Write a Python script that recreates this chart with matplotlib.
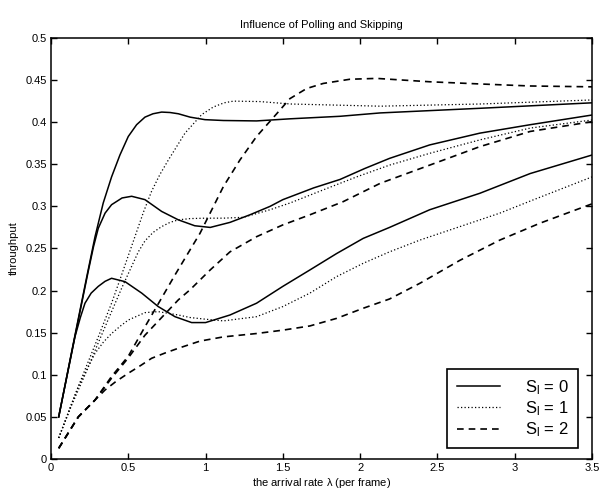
import matplotlib
matplotlib.use("Agg")
import matplotlib.pyplot as plt

plt.rcParams['font.family'] = ['Liberation Sans', 'DejaVu Sans']
plt.rcParams['mathtext.fontset'] = 'custom'
plt.rcParams['mathtext.rm'] = 'Liberation Sans'
plt.rcParams['mathtext.it'] = 'Liberation Sans'

# Values: arrival rate (per frame) vs throughput.
# S_l = 0 (solid), three curves
s0_top_x = [0.05, 0.14, 0.23, 0.285, 0.338, 0.392, 0.446, 0.50, 0.554, 0.608, 0.66,
            0.716, 0.77, 0.824, 0.90, 0.996, 1.115, 1.33, 1.546, 1.87, 2.13, 2.775, 3.5]
s0_top_y = [0.05, 0.133, 0.215, 0.264, 0.304, 0.335, 0.361, 0.383, 0.397, 0.406, 0.410,
            0.412, 0.4115, 0.410, 0.406, 0.403, 0.402, 0.4015, 0.404, 0.407, 0.411, 0.4165, 0.423]

s0_mid_x = [0.05, 0.14, 0.24, 0.275, 0.306, 0.35, 0.392, 0.46, 0.522, 0.608, 0.716, 0.824, 0.93,
            1.03, 1.158, 1.287, 1.417, 1.5, 1.7, 1.87, 2.03, 2.19, 2.45, 2.775, 3.1, 3.5]
s0_mid_y = [0.05, 0.132, 0.222, 0.252, 0.274, 0.292, 0.302, 0.310, 0.312, 0.308, 0.294, 0.284, 0.277,
            0.275, 0.281, 0.290, 0.300, 0.308, 0.322, 0.332, 0.345, 0.357, 0.373, 0.387, 0.397, 0.4085]

s0_low_x = [0.05, 0.155, 0.19, 0.22, 0.26, 0.306, 0.35, 0.392, 0.479, 0.587, 0.694, 0.802, 0.91, 1.0,
            1.158, 1.33, 1.5, 1.675, 1.848, 2.02, 2.19, 2.45, 2.775, 3.1, 3.5]
s0_low_y = [0.05, 0.145, 0.168, 0.185, 0.197, 0.205, 0.211, 0.2146, 0.2106, 0.197, 0.181, 0.169, 0.162, 0.162,
            0.171, 0.185, 0.205, 0.2245, 0.244, 0.262, 0.275, 0.296, 0.3156, 0.339, 0.361]

# S_l = 1 (dotted)
s1_top_x = [0.05, 0.134, 0.22, 0.306, 0.392, 0.45, 0.543, 0.60, 0.651, 0.705, 0.759, 0.867, 0.975,
            1.05, 1.12, 1.18, 1.35, 1.55, 2.13, 2.775, 3.5]
s1_top_y = [0.025, 0.066, 0.106, 0.145, 0.185, 0.215, 0.264, 0.294, 0.318, 0.338, 0.355, 0.387, 0.409,
            0.418, 0.423, 0.425, 0.4245, 0.4216, 0.419, 0.4216, 0.4264]

s1_mid_x = [0.05, 0.134, 0.22, 0.306, 0.392, 0.46, 0.52, 0.565, 0.608, 0.66, 0.716, 0.77, 0.824, 0.90, 1.0,
            1.115, 1.244, 1.417, 1.546, 1.76, 1.977, 2.19, 2.45, 2.775, 3.1, 3.5]
s1_mid_y = [0.025, 0.064, 0.100, 0.138, 0.175, 0.204, 0.228, 0.246, 0.259, 0.269, 0.276, 0.281, 0.284, 0.2855, 0.286,
            0.286, 0.287, 0.296, 0.304, 0.3195, 0.335, 0.349, 0.363, 0.379, 0.393, 0.4026]

s1_low_x = [0.05, 0.177, 0.285, 0.34, 0.392, 0.45, 0.50, 0.608, 0.694, 0.824, 0.90, 1.0, 1.115,
            1.33, 1.5, 1.675, 1.848, 2.02, 2.19, 2.387, 2.646, 2.904, 3.118, 3.5]
s1_low_y = [0.025, 0.086, 0.1255, 0.139, 0.149, 0.158, 0.165, 0.1738, 0.175, 0.171, 0.168, 0.166, 0.164,
            0.169, 0.181, 0.197, 0.2166, 0.2324, 0.246, 0.260, 0.276, 0.292, 0.3076, 0.335]

# S_l = 2 (dashed)
s2_top_x = [0.05, 0.177, 0.285, 0.392, 0.50, 0.608, 0.802, 0.964, 1.115, 1.222, 1.33,
            1.46, 1.546, 1.654, 1.761, 1.934, 2.107, 2.45, 2.775, 3.1, 3.5]
s2_top_y = [0.0127, 0.05, 0.07, 0.098, 0.122, 0.157, 0.2185, 0.268, 0.3234, 0.355, 0.383,
            0.410, 0.428, 0.440, 0.446, 0.451, 0.452, 0.448, 0.4454, 0.443, 0.442]

s2_mid_x = [0.05, 0.177, 0.285, 0.392, 0.50, 0.608, 0.824, 0.90, 1.03, 1.158, 1.33,
            1.5, 1.675, 1.89, 2.13, 2.45, 2.775, 3.1, 3.5]
s2_mid_y = [0.0127, 0.05, 0.07, 0.096, 0.120, 0.147, 0.189, 0.201, 0.2245, 0.246, 0.264,
            0.278, 0.290, 0.3056, 0.3274, 0.349, 0.371, 0.389, 0.4006]

s2_low_x = [0.05, 0.177, 0.285, 0.35, 0.42, 0.50, 0.58, 0.651, 0.74, 0.824, 0.964, 1.115, 1.33, 1.5,
            1.675, 1.848, 2.02, 2.19, 2.387, 2.646, 2.904, 3.163, 3.5]
s2_low_y = [0.0127, 0.05, 0.07, 0.082, 0.092, 0.1018, 0.111, 0.1196, 0.126, 0.1315, 0.140, 0.145, 0.149, 0.153,
            0.158, 0.167, 0.179, 0.190, 0.2087, 0.236, 0.260, 0.280, 0.303]

x_ticks = [0, 0.5, 1, 1.5, 2, 2.5, 3, 3.5]
y_ticks = [0, 0.05, 0.1, 0.15, 0.2, 0.25, 0.3, 0.35, 0.4, 0.45, 0.5]
x_tick_labels = ["0", "0.5", "1", "1.5", "2", "2.5", "3", "3.5"]
y_tick_labels = ["0", "0.05", "0.1", "0.15", "0.2", "0.25", "0.3", "0.35", "0.4", "0.45", "0.5"]

fig = plt.figure(figsize=(5.99, 4.94), dpi=100)
ax = fig.add_axes([0.0851, 0.0709, 0.9032, 0.8522])

solid = dict(color="black", linewidth=1.1, linestyle="-", solid_joinstyle="round")
dotted = dict(color="black", linewidth=0.9, linestyle=(0, (1, 1.8)))
dashed = dict(color="black", linewidth=1.2, linestyle=(0, (4, 3)), dash_joinstyle="round")

h0, = ax.plot(s0_top_x, s0_top_y, **solid)
ax.plot(s0_mid_x, s0_mid_y, **solid)
ax.plot(s0_low_x, s0_low_y, **solid)
h1, = ax.plot(s1_top_x, s1_top_y, **dotted)
ax.plot(s1_mid_x, s1_mid_y, **dotted)
ax.plot(s1_low_x, s1_low_y, **dotted)
h2, = ax.plot(s2_top_x, s2_top_y, **dashed)
ax.plot(s2_mid_x, s2_mid_y, **dashed)
ax.plot(s2_low_x, s2_low_y, **dashed)

ax.set_xlim(0, 3.5)
ax.set_ylim(0, 0.5)
ax.set_xticks(x_ticks)
ax.set_xticklabels(x_tick_labels)
ax.set_yticks(y_ticks)
ax.set_yticklabels(y_tick_labels)
ax.tick_params(direction="in", length=4, width=1, top=True, right=True,
               labelsize=8, pad=3)
for sp in ax.spines.values():
    sp.set_linewidth(1.1)

ax.set_title("Influence of Polling and Skipping", fontsize=8, pad=7)
ax.set_xlabel(r"the arrival rate $\mathregular{\lambda}$ (per frame)", fontsize=8, labelpad=2)
ax.set_ylabel("throughput", fontsize=8, labelpad=5)

leg = ax.legend([h0, h1, h2],
                [r"$\mathregular{S_l}$ = 0", r"$\mathregular{S_l}$ = 1", r"$\mathregular{S_l}$ = 2"],
                loc="lower right", bbox_to_anchor=(0.974, 0.0254), borderaxespad=0,
                fontsize=12, handlelength=2.6, handletextpad=1.5, labelspacing=0.15,
                borderpad=0.55, fancybox=False, framealpha=1)
leg.get_frame().set_edgecolor("black")
leg.get_frame().set_linewidth(1.2)

fig.savefig("out.png", dpi=100)
